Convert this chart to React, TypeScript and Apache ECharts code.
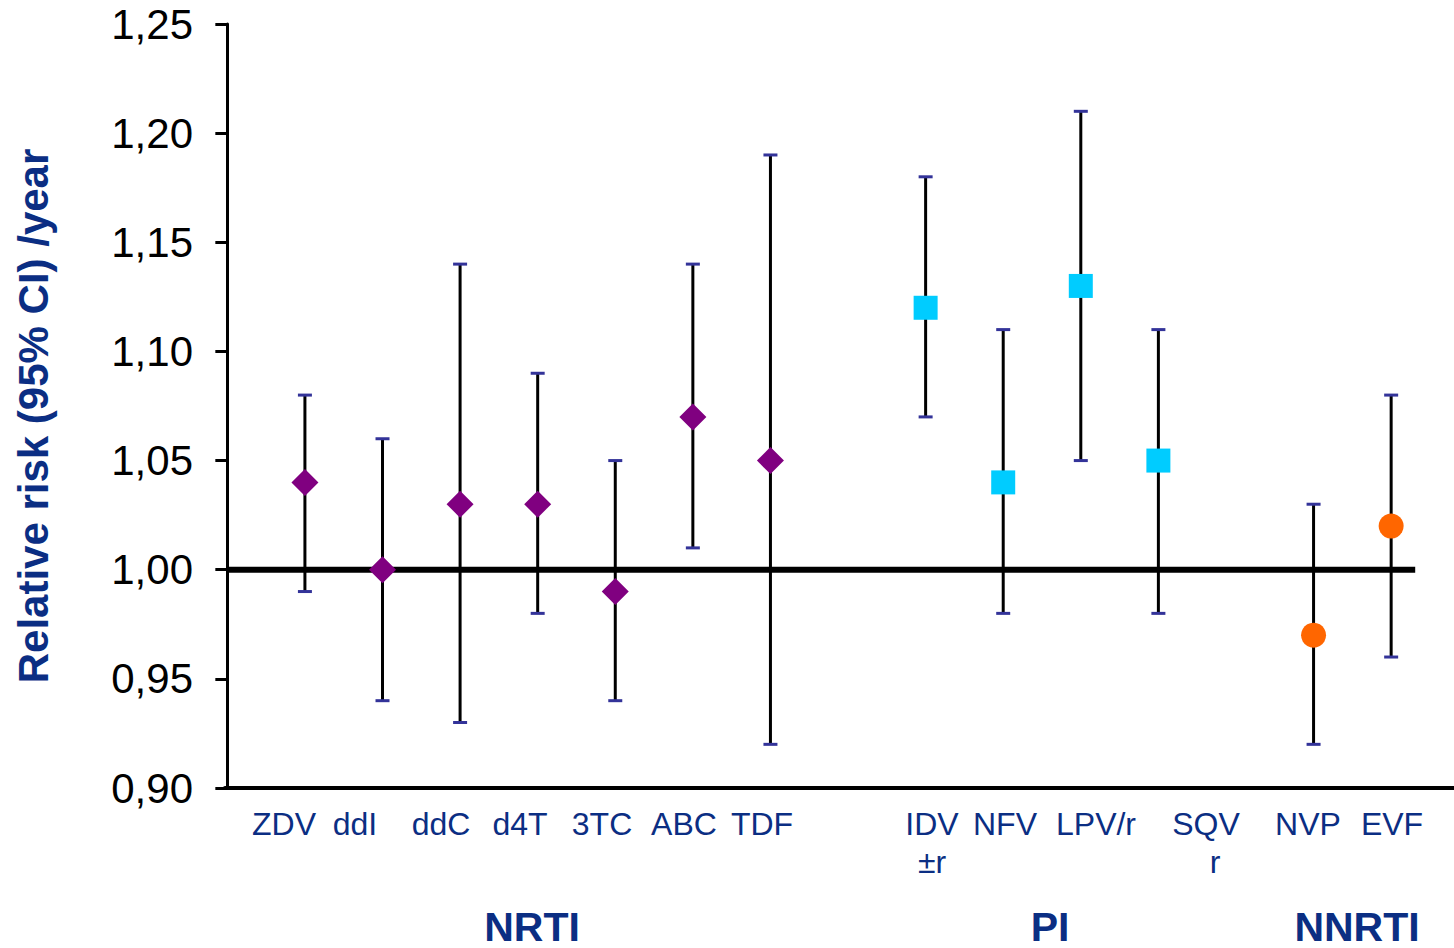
import React, { useEffect, useRef } from "react";
import * as echarts from "echarts";

// ---- Data ----
const drugs = ["ZDV", "ddI", "ddC", "d4T", "3TC", "ABC", "TDF", "IDV", "NFV", "LPV/r", "SQV", "NVP", "EVF"];
const drugSubLabels = ["", "", "", "", "", "", "", "±r", "", "", "r", "", ""];
const drugClass = ["NRTI", "NRTI", "NRTI", "NRTI", "NRTI", "NRTI", "NRTI", "PI", "PI", "PI", "PI", "NNRTI", "NNRTI"];
const xPos = [1, 2, 3, 4, 5, 6, 7, 9, 10, 11, 12, 14, 15];
const estimate = [1.04, 1.0, 1.03, 1.03, 0.99, 1.07, 1.05, 1.12, 1.04, 1.13, 1.05, 0.97, 1.02];
const lower = [0.99, 0.94, 0.93, 0.98, 0.94, 1.01, 0.92, 1.07, 0.98, 1.05, 0.98, 0.92, 0.96];
const upper = [1.08, 1.06, 1.14, 1.09, 1.05, 1.14, 1.19, 1.18, 1.11, 1.21, 1.11, 1.03, 1.08];
const groups = ["NRTI", "PI", "NNRTI"];
const referenceValue = 1.0;
const yTitle = "Relative risk (95% CI) /year";

// ---- Layout (pixels) ----
const labelCenterX = [284, 355, 441, 520, 602, 684, 762, 932, 1005, 1096, 1206, 1308, 1392];
const subLabelCenterX = [0, 0, 0, 0, 0, 0, 0, 932, 0, 0, 1215, 0, 0];
const groupCenterX = [532, 1050, 1357];
const BLUE = "#0b2e83";
const FONT = "Liberation Sans, Arial, sans-serif";
const classStyle: Record<string, { symbol: string; size: number | number[]; color: string }> = {
  NRTI: { symbol: "diamond", size: [27, 27], color: "#800080" },
  PI: { symbol: "rect", size: 24, color: "#00ccff" },
  NNRTI: { symbol: "circle", size: 25, color: "#ff6600" },
};

export default function App() {
  const ref = useRef<HTMLDivElement>(null);
  useEffect(() => {
    if (!ref.current) return;
    const chart = echarts.init(ref.current, null, { renderer: "svg" });

    const errData = drugs.map((_, i) => [xPos[i], lower[i], upper[i]]);

    const scatterSeries = groups.map((g) => ({
      type: "scatter",
      name: g,
      symbol: classStyle[g].symbol,
      symbolSize: classStyle[g].size,
      itemStyle: { color: classStyle[g].color, opacity: 1 },
      z: 5,
      data: drugs
        .map((_, i) => (drugClass[i] === g ? [xPos[i], estimate[i]] : null))
        .filter((d) => d !== null),
    }));

    const graphics: any[] = [];
    drugs.forEach((d, i) => {
      graphics.push({
        type: "text",
        x: labelCenterX[i],
        y: 824,
        style: {
          text: d,
          fontSize: 32,
          fontFamily: FONT,
          fill: BLUE,
          textAlign: "center",
          textVerticalAlign: "middle",
        },
      });
      if (drugSubLabels[i]) {
        graphics.push({
          type: "text",
          x: subLabelCenterX[i],
          y: 862,
          style: {
            text: drugSubLabels[i],
            fontSize: 32,
            fontFamily: FONT,
            fill: BLUE,
            textAlign: "center",
            textVerticalAlign: "middle",
          },
        });
      }
    });
    groups.forEach((g, i) => {
      graphics.push({
        type: "text",
        x: groupCenterX[i],
        y: 947,
        style: {
          text: g,
          fontSize: 41,
          fontWeight: "bold",
          fontFamily: FONT,
          fill: BLUE,
          textAlign: "center",
          textVerticalAlign: "bottom",
        },
      });
    });
    graphics.push({
      type: "text",
      x: 33,
      y: 416,
      rotation: Math.PI / 2,
      style: {
        text: yTitle,
        fontSize: 42,
        fontWeight: "bold",
        fontFamily: FONT,
        fill: BLUE,
        textAlign: "center",
        textVerticalAlign: "middle",
      },
    });

    chart.setOption({
      animation: false,
      backgroundColor: "#ffffff",
      grid: { left: 225, right: 0, top: 24, bottom: 160, containLabel: false },
      xAxis: {
        type: "value",
        min: -0.03,
        max: 15.81,
        axisLine: { show: true, onZero: false, lineStyle: { color: "#000", width: 4 } },
        axisTick: { show: false },
        axisLabel: { show: false },
        splitLine: { show: false },
      },
      yAxis: {
        type: "value",
        min: 0.9,
        max: 1.25,
        interval: 0.05,
        axisLine: { show: true, lineStyle: { color: "#000", width: 3 } },
        axisTick: { show: true, length: 12, lineStyle: { color: "#000", width: 3 } },
        axisLabel: {
          margin: 32,
          fontSize: 42,
          color: "#000",
          fontFamily: FONT,
          formatter: (v: number) => v.toFixed(2).replace(".", ","),
        },
        splitLine: { show: false },
      },
      series: [
        {
          type: "line",
          data: [
            [0, referenceValue],
            [15.31, referenceValue],
          ],
          symbol: "none",
          lineStyle: { color: "#000", width: 6 },
          z: 3,
        },
        {
          type: "custom",
          z: 4,
          data: errData,
          renderItem: (params: any, api: any) => {
            const x = api.value(0);
            const lo = api.coord([x, api.value(1)]);
            const hi = api.coord([x, api.value(2)]);
            const capW = 7;
            return {
              type: "group",
              children: [
                {
                  type: "line",
                  shape: { x1: lo[0], y1: lo[1], x2: hi[0], y2: hi[1] },
                  style: { stroke: "#000", lineWidth: 3 },
                },
                {
                  type: "line",
                  shape: { x1: hi[0] - capW, y1: hi[1], x2: hi[0] + capW, y2: hi[1] },
                  style: { stroke: "#333399", lineWidth: 3 },
                },
                {
                  type: "line",
                  shape: { x1: lo[0] - capW, y1: lo[1], x2: lo[0] + capW, y2: lo[1] },
                  style: { stroke: "#333399", lineWidth: 3 },
                },
              ],
            };
          },
        },
        ...scatterSeries,
      ],
      graphic: graphics,
    });
    return () => chart.dispose();
  }, []);
  return (
    <div
      ref={ref}
      style={{ position: "absolute", left: 0, top: 0, width: 1454, height: 948 }}
    />
  );
}
